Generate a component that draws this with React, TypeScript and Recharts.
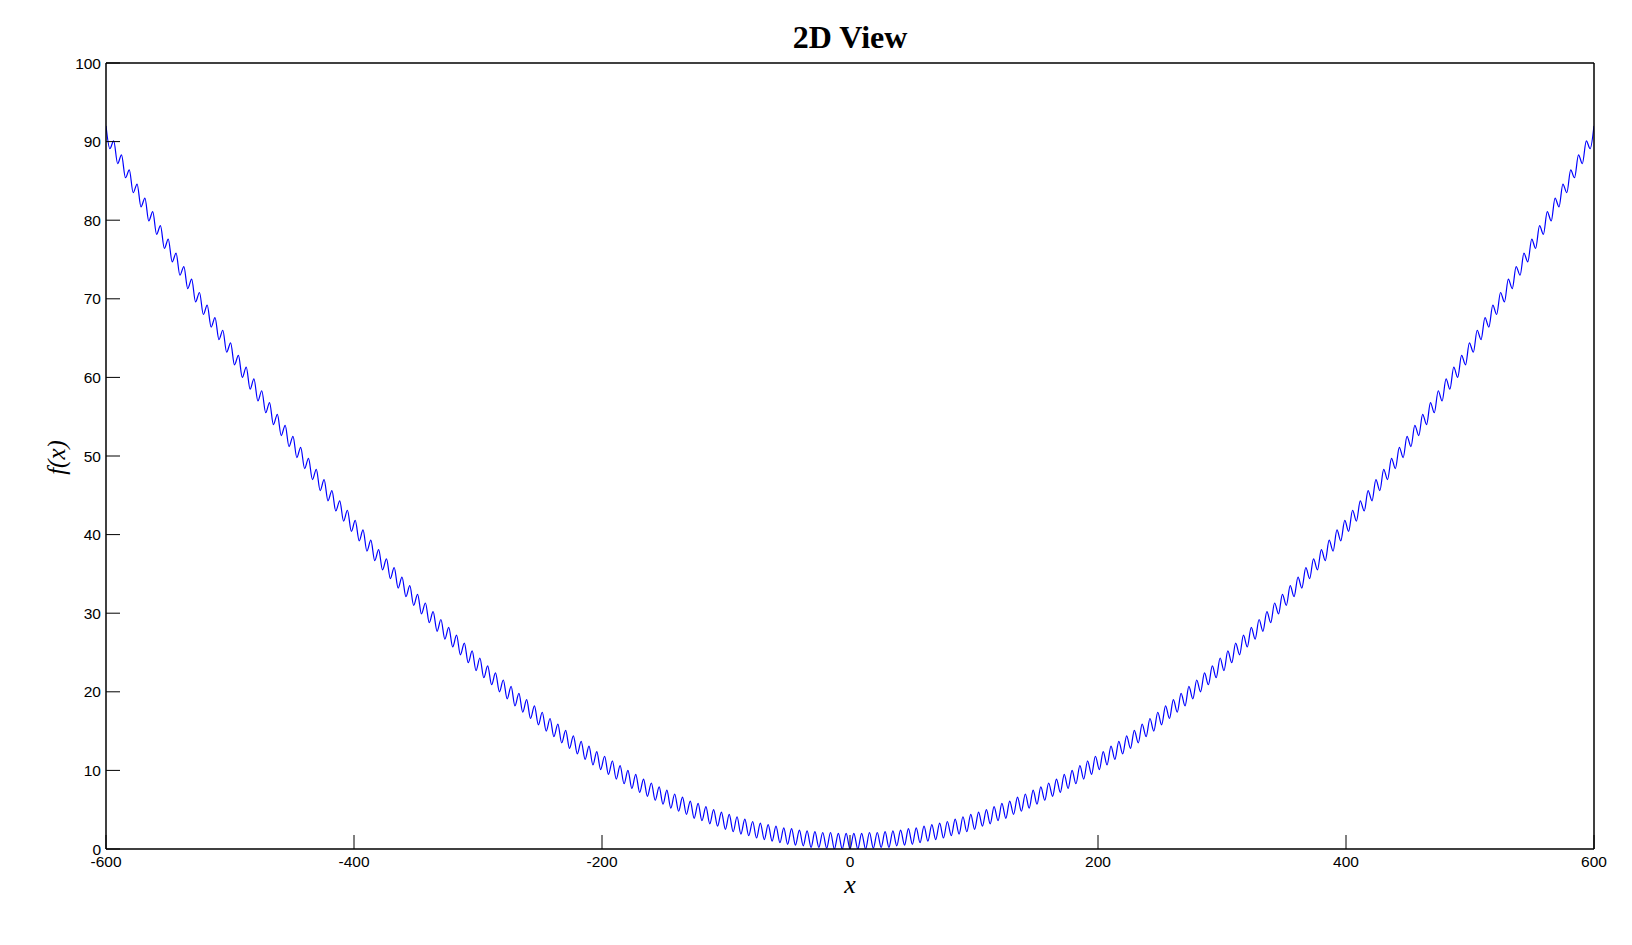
import { LineChart, Line, XAxis, YAxis } from 'recharts';

// extrema of the curve (x, f(x)), left to right
const xNeg = [
  -600,
  -596.9, -593.8, -590.6, -587.5, -584.3, -581.2, -578.1, -574.9, -571.8, -568.6,
  -565.5, -562.3, -559.2, -556.1, -552.9, -549.8, -546.6, -543.5, -540.4, -537.2,
  -534.1, -530.9, -527.8, -524.6, -521.5, -518.4, -515.2, -512.1, -508.9, -505.8,
  -502.7, -499.5, -496.4, -493.2, -490.1, -486.9, -483.8, -480.7, -477.5, -474.4,
  -471.2, -468.1, -465.0, -461.8, -458.7, -455.5, -452.4, -449.2, -446.1, -443.0,
  -439.8, -436.7, -433.5, -430.4, -427.3, -424.1, -421.0, -417.8, -414.7, -411.5,
  -408.4, -405.3, -402.1, -399.0, -395.8, -392.7, -389.6, -386.4, -383.3, -380.1,
  -377.0, -373.8, -370.7, -367.6, -364.4, -361.3, -358.1, -355.0, -351.9, -348.7,
  -345.6, -342.4, -339.3, -336.2, -333.0, -329.9, -326.7, -323.6, -320.4, -317.3,
  -314.2, -311.0, -307.9, -304.7, -301.6, -298.5, -295.3, -292.2, -289.0, -285.9,
  -282.7, -279.6, -276.5, -273.3, -270.2, -267.0, -263.9, -260.8, -257.6, -254.5,
  -251.3, -248.2, -245.0, -241.9, -238.8, -235.6, -232.5, -229.3, -226.2, -223.1,
  -219.9, -216.8, -213.6, -210.5, -207.3, -204.2, -201.1, -197.9, -194.8, -191.6,
  -188.5, -185.4, -182.2, -179.1, -175.9, -172.8, -169.6, -166.5, -163.4, -160.2,
  -157.1, -153.9, -150.8, -147.7, -144.5, -141.4, -138.2, -135.1, -131.9, -128.8,
  -125.7, -122.5, -119.4, -116.2, -113.1, -110.0, -106.8, -103.7, -100.5, -97.4,
  -94.2, -91.1, -88.0, -84.8, -81.7, -78.5, -75.4, -72.3, -69.1, -66.0,
  -62.8, -59.7, -56.5, -53.4, -50.3, -47.1, -44.0, -40.8, -37.7, -34.6,
  -31.4, -28.3, -25.1, -22.0, -18.8, -15.7, -12.6, -9.4, -6.3, -3.1,
];
const yNeg = [
  92.0,
  89.1, 90.1, 87.2, 88.3, 85.4, 86.4, 83.5, 84.6, 81.7, 82.8,
  79.9, 81.1, 78.2, 79.3, 76.4, 77.6, 74.7, 75.8, 73.0, 74.1,
  71.3, 72.5, 69.6, 70.8, 68.0, 69.2, 66.4, 67.6, 64.8, 66.0,
  63.2, 64.4, 61.6, 62.8, 60.0, 61.3, 58.5, 59.8, 57.0, 58.3,
  55.5, 56.8, 54.0, 55.3, 52.6, 53.9, 51.2, 52.5, 49.8, 51.1,
  48.4, 49.7, 47.0, 48.3, 45.6, 47.0, 44.3, 45.6, 43.0, 44.3,
  41.7, 43.1, 40.4, 41.8, 39.2, 40.6, 37.9, 39.3, 36.7, 38.1,
  35.5, 36.9, 34.4, 35.8, 33.2, 34.6, 32.1, 33.5, 31.0, 32.4,
  29.9, 31.3, 28.8, 30.2, 27.7, 29.2, 26.7, 28.2, 25.7, 27.2,
  24.7, 26.2, 23.7, 25.2, 22.7, 24.3, 21.8, 23.3, 20.9, 22.4,
  20.0, 21.5, 19.1, 20.7, 18.2, 19.8, 17.4, 19.0, 16.6, 18.2,
  15.8, 17.4, 15.0, 16.6, 14.3, 15.9, 13.5, 15.1, 12.8, 14.4,
  12.1, 13.7, 11.4, 13.1, 10.7, 12.4, 10.1, 11.8, 9.5, 11.2,
  8.9, 10.6, 8.3, 10.0, 7.7, 9.5, 7.2, 8.9, 6.7, 8.4,
  6.2, 7.9, 5.7, 7.5, 5.2, 7.0, 4.8, 6.6, 4.4, 6.1,
  3.9, 5.8, 3.6, 5.4, 3.2, 5.0, 2.9, 4.7, 2.5, 4.4,
  2.2, 4.1, 1.9, 3.8, 1.7, 3.5, 1.4, 3.3, 1.2, 3.1,
  1.0, 2.9, 0.8, 2.7, 0.6, 2.6, 0.5, 2.4, 0.4, 2.3,
  0.2, 2.2, 0.2, 2.1, 0.1, 2.1, 0.0, 2.0, 0.0, 2.0,
];
const xPos = [
  0,
  3.1, 6.3, 9.4, 12.6, 15.7, 18.8, 22.0, 25.1, 28.3, 31.4,
  34.6, 37.7, 40.8, 44.0, 47.1, 50.3, 53.4, 56.5, 59.7, 62.8,
  66.0, 69.1, 72.3, 75.4, 78.5, 81.7, 84.8, 88.0, 91.1, 94.2,
  97.4, 100.5, 103.7, 106.8, 110.0, 113.1, 116.2, 119.4, 122.5, 125.7,
  128.8, 131.9, 135.1, 138.2, 141.4, 144.5, 147.7, 150.8, 153.9, 157.1,
  160.2, 163.4, 166.5, 169.6, 172.8, 175.9, 179.1, 182.2, 185.4, 188.5,
  191.6, 194.8, 197.9, 201.1, 204.2, 207.3, 210.5, 213.6, 216.8, 219.9,
  223.1, 226.2, 229.3, 232.5, 235.6, 238.8, 241.9, 245.0, 248.2, 251.3,
  254.5, 257.6, 260.8, 263.9, 267.0, 270.2, 273.3, 276.5, 279.6, 282.7,
  285.9, 289.0, 292.2, 295.3, 298.5, 301.6, 304.7, 307.9, 311.0, 314.2,
  317.3, 320.4, 323.6, 326.7, 329.9, 333.0, 336.2, 339.3, 342.4, 345.6,
  348.7, 351.9, 355.0, 358.1, 361.3, 364.4, 367.6, 370.7, 373.8, 377.0,
  380.1, 383.3, 386.4, 389.6, 392.7, 395.8, 399.0, 402.1, 405.3, 408.4,
  411.5, 414.7, 417.8, 421.0, 424.1, 427.3, 430.4, 433.5, 436.7, 439.8,
  443.0, 446.1, 449.2, 452.4, 455.5, 458.7, 461.8, 465.0, 468.1, 471.2,
  474.4, 477.5, 480.7, 483.8, 486.9, 490.1, 493.2, 496.4, 499.5, 502.7,
  505.8, 508.9, 512.1, 515.2, 518.4, 521.5, 524.6, 527.8, 530.9, 534.1,
  537.2, 540.4, 543.5, 546.6, 549.8, 552.9, 556.1, 559.2, 562.3, 565.5,
  568.6, 571.8, 574.9, 578.1, 581.2, 584.3, 587.5, 590.6, 593.8, 596.9,
  600,
];
const yPos = [
  0,
  2.0, 0.0, 2.0, 0.0, 2.1, 0.1, 2.1, 0.2, 2.2, 0.2,
  2.3, 0.4, 2.4, 0.5, 2.6, 0.6, 2.7, 0.8, 2.9, 1.0,
  3.1, 1.2, 3.3, 1.4, 3.5, 1.7, 3.8, 1.9, 4.1, 2.2,
  4.4, 2.5, 4.7, 2.9, 5.0, 3.2, 5.4, 3.6, 5.8, 3.9,
  6.1, 4.4, 6.6, 4.8, 7.0, 5.2, 7.5, 5.7, 7.9, 6.2,
  8.4, 6.7, 8.9, 7.2, 9.5, 7.7, 10.0, 8.3, 10.6, 8.9,
  11.2, 9.5, 11.8, 10.1, 12.4, 10.7, 13.1, 11.4, 13.7, 12.1,
  14.4, 12.8, 15.1, 13.5, 15.9, 14.3, 16.6, 15.0, 17.4, 15.8,
  18.2, 16.6, 19.0, 17.4, 19.8, 18.2, 20.7, 19.1, 21.5, 20.0,
  22.4, 20.9, 23.3, 21.8, 24.3, 22.7, 25.2, 23.7, 26.2, 24.7,
  27.2, 25.7, 28.2, 26.7, 29.2, 27.7, 30.2, 28.8, 31.3, 29.9,
  32.4, 31.0, 33.5, 32.1, 34.6, 33.2, 35.8, 34.4, 36.9, 35.5,
  38.1, 36.7, 39.3, 37.9, 40.6, 39.2, 41.8, 40.4, 43.1, 41.7,
  44.3, 43.0, 45.6, 44.3, 47.0, 45.6, 48.3, 47.0, 49.7, 48.4,
  51.1, 49.8, 52.5, 51.2, 53.9, 52.6, 55.3, 54.0, 56.8, 55.5,
  58.3, 57.0, 59.8, 58.5, 61.3, 60.0, 62.8, 61.6, 64.4, 63.2,
  66.0, 64.8, 67.6, 66.4, 69.2, 68.0, 70.8, 69.6, 72.5, 71.3,
  74.1, 73.0, 75.8, 74.7, 77.6, 76.4, 79.3, 78.2, 81.1, 79.9,
  82.8, 81.7, 84.6, 83.5, 86.4, 85.4, 88.3, 87.2, 90.1, 89.1,
  92.0,
];

const xTicks = [-600, -400, -200, 0, 200, 400, 600];
const yTicks = [0, 10, 20, 30, 40, 50, 60, 70, 80, 90, 100];

const xs = [...xNeg, ...xPos];
const ys = [...yNeg, ...yPos];
const data = xs.map((x, i) => ({ x, fx: ys[i] }));

const serif = '"Liberation Serif", "Times New Roman", serif';
const tickFont = { fill: '#000', fontSize: 15.5, fontFamily: '"Liberation Sans", Arial, sans-serif' };

export default function App() {
  return (
    <div style={{ position: 'absolute', left: 0, top: 0, width: 1632, height: 945, background: '#fff' }}>
      <LineChart
        width={1632}
        height={945}
        data={data}
        margin={{ top: 63, right: 38, left: 46, bottom: 56 }}
      >
        <XAxis
          dataKey="x"
          type="number"
          domain={[-600, 600]}
          ticks={xTicks}
          allowDataOverflow
          height={40}
          tick={tickFont}
          tickSize={-14}
          tickMargin={20.5}
          axisLine={{ stroke: '#000', strokeWidth: 1.5 }}
          tickLine={{ stroke: '#000' }}
        />
        <XAxis
          xAxisId="top"
          dataKey="x"
          type="number"
          orientation="top"
          mirror
          domain={[-600, 600]}
          ticks={xTicks}
          allowDataOverflow
          height={20}
          tick={false}
          tickSize={14}
          axisLine={{ stroke: '#000', strokeWidth: 1.5 }}
          tickLine={{ stroke: '#000' }}
        />
        <YAxis
          type="number"
          domain={[0, 100]}
          ticks={yTicks}
          allowDataOverflow
          width={60}
          tick={tickFont}
          tickSize={-14}
          tickMargin={19}
          axisLine={{ stroke: '#000', strokeWidth: 1.5 }}
          tickLine={{ stroke: '#000' }}
        />
        <YAxis
          yAxisId="right"
          type="number"
          orientation="right"
          mirror
          domain={[0, 100]}
          ticks={yTicks}
          allowDataOverflow
          width={20}
          tick={false}
          tickSize={14}
          axisLine={{ stroke: '#000', strokeWidth: 1.5 }}
          tickLine={{ stroke: '#000' }}
        />
        <Line
          type="monotone"
          dataKey="fx"
          stroke="#0000ff"
          strokeWidth={1.2}
          dot={false}
          isAnimationActive={false}
        />
      </LineChart>
      <div
        style={{
          position: 'absolute', left: 650, top: 21, width: 400, textAlign: 'center',
          fontFamily: serif, fontWeight: 'bold', fontSize: 32, lineHeight: '32px', color: '#000',
        }}
      >
        2D View
      </div>
      <div
        style={{
          position: 'absolute', left: 800, top: 872, width: 100, textAlign: 'center',
          fontFamily: serif, fontStyle: 'italic', fontSize: 26, lineHeight: '26px', color: '#000',
        }}
      >
        x
      </div>
      <div
        style={{
          position: 'absolute', left: 6, top: 445, width: 100, textAlign: 'center',
          fontFamily: serif, fontStyle: 'italic', fontSize: 25, lineHeight: '25px', color: '#000',
          transform: 'rotate(-90deg)',
        }}
      >
        f(x)
      </div>
    </div>
  );
}
